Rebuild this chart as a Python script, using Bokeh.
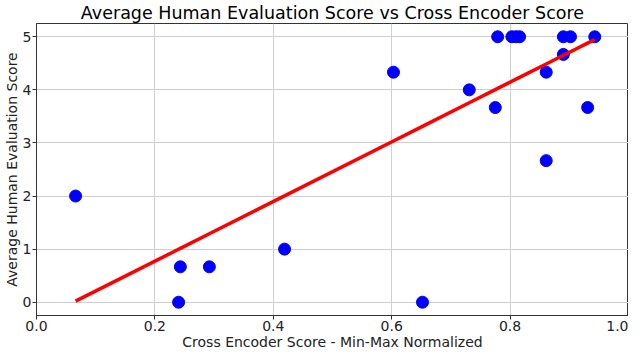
from bokeh.plotting import figure
from bokeh.models import Range1d, FixedTicker
from bokeh.embed import file_html
from bokeh.resources import INLINE

# Data
cross_encoder_score = [0.066, 0.240, 0.243, 0.292, 0.419, 0.603, 0.652, 0.731,
                       0.775, 0.779, 0.803, 0.810, 0.816, 0.861, 0.861, 0.890,
                       0.890, 0.902, 0.931, 0.943]
human_score = [2.0, 0.0, 0.667, 0.667, 1.0, 4.333, 0.0, 4.0,
               3.667, 5.0, 5.0, 5.0, 5.0, 4.333, 2.667, 4.667,
               5.0, 5.0, 3.667, 5.0]
# Regression line coefficients
fit_slope = 5.62
fit_intercept = -0.351
x_ticks = [0.0, 0.2, 0.4, 0.6, 0.8, 1.0]
y_ticks = [0, 1, 2, 3, 4, 5]

xs = sorted(cross_encoder_score)
fit = [fit_slope * v + fit_intercept for v in xs]

FONT = "DejaVu Sans"
p = figure(frame_width=592, frame_height=292, output_backend="svg", toolbar_location=None,
           x_range=Range1d(0.0, 1.0), y_range=Range1d(-0.25, 5.25),
           title="Average Human Evaluation Score vs Cross Encoder Score")
p.min_border_left = 0
p.min_border_right = 0
p.min_border_top = 0
p.min_border_bottom = 0

p.title.text_font = FONT
p.title.text_font_size = "17.5px"
p.title.text_font_style = "normal"
p.title.align = "center"
p.title.standoff = 1
p.title.text_color = "#000000"

p.outline_line_color = "#333333"
p.outline_line_width = 1
p.background_fill_color = "white"
p.border_fill_color = "white"

p.xaxis.ticker = FixedTicker(ticks=x_ticks)
p.yaxis.ticker = FixedTicker(ticks=y_ticks)
p.xaxis.major_label_overrides = {t: f"{t:.1f}" for t in x_ticks}
p.xaxis.axis_label = "Cross Encoder Score - Min-Max Normalized"
p.yaxis.axis_label = "Average Human Evaluation Score"
for ax in (p.xaxis[0], p.yaxis[0]):
    ax.axis_label_text_font = FONT
    ax.axis_label_text_font_size = "14px"
    ax.axis_label_text_font_style = "normal"
    ax.axis_label_text_color = "#222222"
    ax.major_label_text_font = FONT
    ax.major_label_text_font_size = "14px"
    ax.major_label_text_color = "#222222"
    ax.axis_line_color = "#333333"
    ax.major_tick_line_color = "#333333"
    ax.major_tick_out = 4
    ax.major_tick_in = 0
    ax.minor_tick_line_color = None
    ax.major_label_standoff = 1
    ax.axis_label_standoff = 0

p.xgrid.grid_line_color = "#cfcfcf"
p.ygrid.grid_line_color = "#cfcfcf"
p.xgrid.grid_line_width = 1
p.ygrid.grid_line_width = 1

p.scatter(cross_encoder_score, human_score, size=12, color="#0000ff", line_color="#0000ff")
p.line(xs, fit, line_color="#ff0000", line_width=3.5)

open("out.html", "w").write(file_html(p, INLINE))
